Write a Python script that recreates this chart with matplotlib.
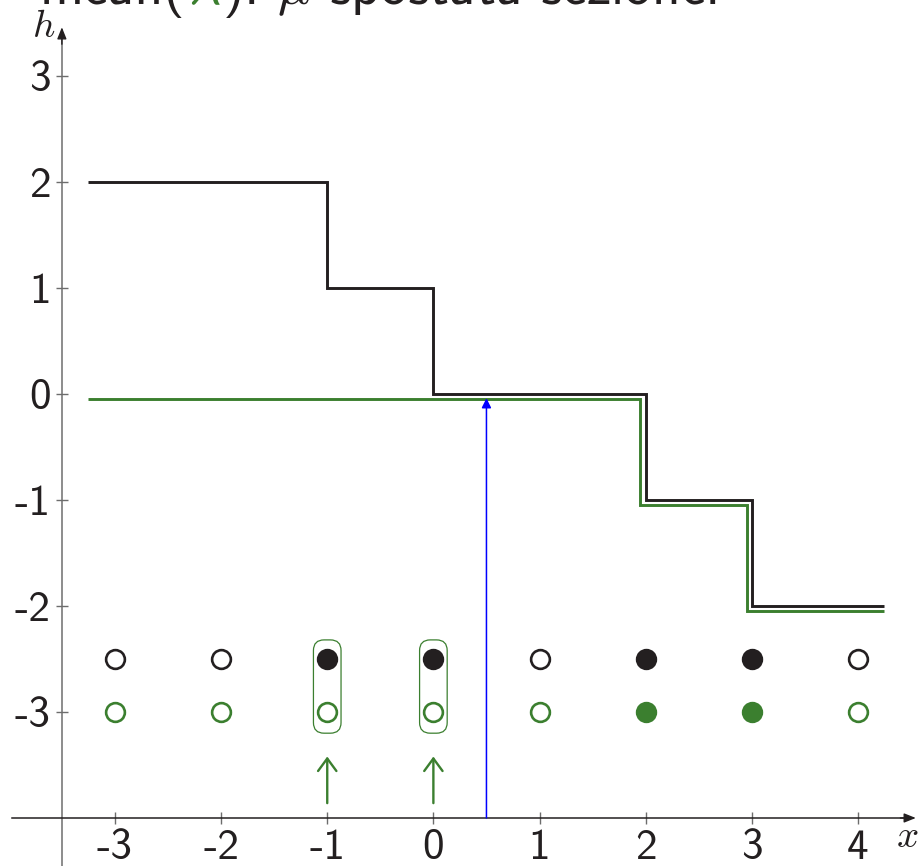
import matplotlib
matplotlib.use("Agg")
import matplotlib.pyplot as plt
from matplotlib.patches import FancyBboxPatch

plt.rcParams["mathtext.fontset"] = "cm"
plt.rcParams["axes.unicode_minus"] = False

# ---- data ----
x_ticks = [-3, -2, -1, 0, 1, 2, 3, 4]
x_tick_labels = ["-3", "-2", "-1", "0", "1", "2", "3", "4"]
h_ticks = [-3, -2, -1, 0, 1, 2, 3]
h_tick_labels = ["-3", "-2", "-1", "0", "1", "2", "3"]

black_edges = [-3.25, -1, 0, 2, 3, 4.25]
black_levels = [2, 1, 0, -1, -2]
green_edges = [-3.25, 1.95, 2.95, 4.25]
green_levels = [-0.05, -1.05, -2.05]

node_x = [-3, -2, -1, 0, 1, 2, 3, 4]
black_row_h = -2.5
green_row_h = -3.0
black_filled = [False, False, True, True, False, True, True, False]
green_filled = [False, False, False, False, False, True, True, False]
boxed_nodes = [-1, 0]
lambda_x = 0.5
lambda_top = -0.04

BLACK = "#231f20"
GREEN = "#3b7f2f"
BLUE = "#0000ff"
GRAY = "#6d6d6d"

W, H = 921, 866
fig = plt.figure(figsize=(W / 100, H / 100), dpi=100)
ax = fig.add_axes([0, 0, 1, 1])
ax.set_xlim(-4.083, 4.594)
ax.set_ylim(-4.453, 3.717)
ax.patch.set_alpha(0)

# axes through (-3.5, -4)
for s in ("top", "right"):
    ax.spines[s].set_visible(False)
ax.spines["left"].set_position(("data", -3.5))
ax.spines["bottom"].set_position(("data", -4))
ax.spines["left"].set_bounds(-4.6, 3.40)
ax.spines["bottom"].set_bounds(-3.97, 4.48)
ax.spines["left"].set_color(GRAY)
ax.spines["bottom"].set_color(BLACK)
ax.spines["left"].set_linewidth(1.1)
ax.spines["bottom"].set_linewidth(1.1)
ax.annotate("", xy=(-3.5, 3.46), xytext=(-3.5, 3.3),
            arrowprops=dict(arrowstyle="-|>,head_length=0.5,head_width=0.2",
                            color=BLACK, lw=1.0, mutation_scale=14, shrinkA=0, shrinkB=0))
ax.annotate("", xy=(4.545, -4), xytext=(4.4, -4),
            arrowprops=dict(arrowstyle="-|>,head_length=0.5,head_width=0.2",
                            color=BLACK, lw=1.0, mutation_scale=14, shrinkA=0, shrinkB=0))

ax.set_xticks(x_ticks)
ax.set_xticklabels(x_tick_labels)
ax.set_yticks(h_ticks)
ax.set_yticklabels(h_tick_labels)
ax.tick_params(direction="inout", length=8, width=1.0, color=GRAY,
               labelsize=31, labelcolor=BLACK)
ax.tick_params(axis="x", pad=4)
ax.tick_params(axis="y", pad=4)
for lab in ax.get_xticklabels() + ax.get_yticklabels():
    lab.set_fontfamily("cmss10")

ax.text(4.46, -4.17, r"$x$", fontsize=28, ha="center", va="center", color=BLACK)
ax.text(-3.67, 3.47, r"$h$", fontsize=28, ha="center", va="center", color=BLACK)

# step functions
ax.stairs(black_levels, black_edges, baseline=None, color=BLACK, lw=2.1)
ax.stairs(green_levels, green_edges, baseline=None, color=GREEN, lw=2.1)

# nodes
for xv, bf, gf in zip(node_x, black_filled, green_filled):
    ax.plot(xv, black_row_h, "o", ms=13.5, mew=1.9, mec=BLACK,
            mfc=BLACK if bf else "white", zorder=4)
    ax.plot(xv, green_row_h, "o", ms=13.5, mew=1.9, mec=GREEN,
            mfc=GREEN if gf else "white", zorder=4)

# rounded boxes and arrows under selected nodes
r = 0.1
for xv in boxed_nodes:
    x0, x1 = xv - 0.13, xv + 0.13
    y0, y1 = -3.2, -2.32
    ax.add_patch(FancyBboxPatch((x0 + r, y0 + r), (x1 - x0) - 2 * r, (y1 - y0) - 2 * r,
                                boxstyle=f"round,pad={r}", fc="none", ec=GREEN, lw=0.9,
                                zorder=3))
    ax.annotate("", xy=(xv, -3.42), xytext=(xv, -3.86),
                arrowprops=dict(arrowstyle="->,head_length=0.45,head_width=0.33",
                                color=GREEN, lw=1.7, mutation_scale=20,
                                shrinkA=0, shrinkB=0))

# lambda marker
ax.annotate("", xy=(lambda_x, lambda_top), xytext=(lambda_x, -4),
            arrowprops=dict(arrowstyle="-|>,head_length=0.4,head_width=0.2",
                            color=BLUE, lw=1.1, mutation_scale=14,
                            shrinkA=0, shrinkB=0), zorder=5)

# heading line
yb = 1 - 4 / H
fig.text(185 / W, yb, "mean(", fontsize=40, family="cmss10", color=BLACK,
         ha="right", va="baseline")
fig.text(188 / W, yb, r"$\lambda$", fontsize=40, color=GREEN, ha="left", va="baseline")
fig.text(222 / W, yb, r"): $\mu$ spostata sezione.", fontsize=40, family="cmss10",
         color=BLACK, ha="left", va="baseline")

fig.savefig("out.png", dpi=100)
